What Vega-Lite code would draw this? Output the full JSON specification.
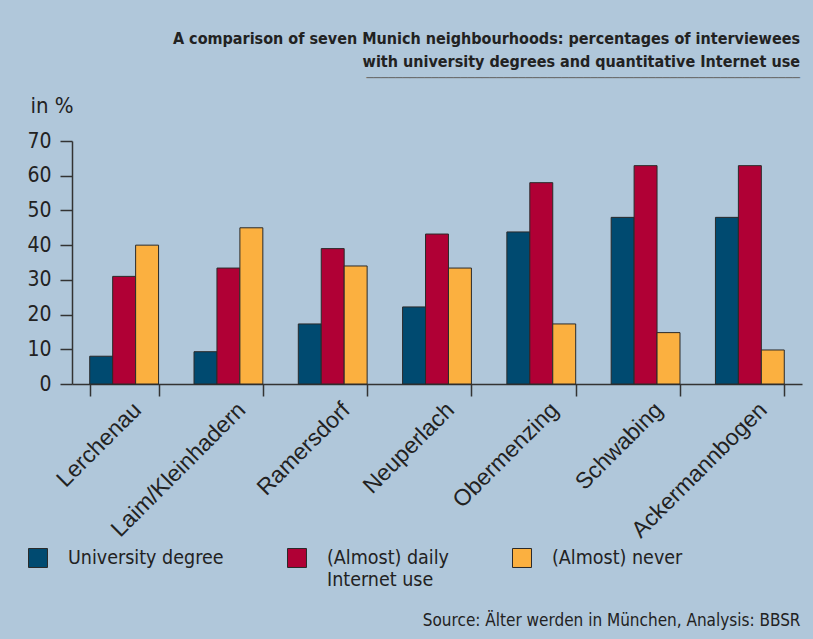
{
  "$schema": "https://vega.github.io/schema/vega-lite/v6.json",
  "width": 730,
  "height": 243,
  "autosize": {"type": "none"},
  "padding": {"left": 72, "top": 141, "right": 11, "bottom": 255},
  "background": "#b0c7da",
  "title": {
    "text": ["A comparison of seven Munich neighbourhoods: percentages of interviewees", "with university degrees and quantitative Internet use"],
    "subtitle": "────────────────────────────────────────────────────────────",
    "anchor": "end",
    "frame": "group",
    "dx": -2,
    "font": "DejaVu Sans Condensed",
    "fontSize": 16,
    "fontWeight": "bold",
    "lineHeight": 23,
    "color": "#222222",
    "subtitleFont": "DejaVu Sans Mono",
    "subtitleFontSize": 12,
    "subtitleColor": "#666666",
    "subtitlePadding": 3,
    "offset": 10
  },
  "data": {
    "values": [
      {"area": "Lerchenau", "series": "University degree|", "value": 8},
      {"area": "Lerchenau", "series": "(Almost) daily|Internet use", "value": 31},
      {"area": "Lerchenau", "series": "(Almost) never|", "value": 40},
      {"area": "Laim/Kleinhadern", "series": "University degree|", "value": 9.3},
      {"area": "Laim/Kleinhadern", "series": "(Almost) daily|Internet use", "value": 33.4},
      {"area": "Laim/Kleinhadern", "series": "(Almost) never|", "value": 45},
      {"area": "Ramersdorf", "series": "University degree|", "value": 17.3},
      {"area": "Ramersdorf", "series": "(Almost) daily|Internet use", "value": 39},
      {"area": "Ramersdorf", "series": "(Almost) never|", "value": 34},
      {"area": "Neuperlach", "series": "University degree|", "value": 22.2},
      {"area": "Neuperlach", "series": "(Almost) daily|Internet use", "value": 43.2},
      {"area": "Neuperlach", "series": "(Almost) never|", "value": 33.4},
      {"area": "Obermenzing", "series": "University degree|", "value": 43.8},
      {"area": "Obermenzing", "series": "(Almost) daily|Internet use", "value": 58},
      {"area": "Obermenzing", "series": "(Almost) never|", "value": 17.3},
      {"area": "Schwabing", "series": "University degree|", "value": 48},
      {"area": "Schwabing", "series": "(Almost) daily|Internet use", "value": 62.9},
      {"area": "Schwabing", "series": "(Almost) never|", "value": 14.8},
      {"area": "Ackermannbogen", "series": "University degree|", "value": 48},
      {"area": "Ackermannbogen", "series": "(Almost) daily|Internet use", "value": 62.9},
      {"area": "Ackermannbogen", "series": "(Almost) never|", "value": 9.8}
    ]
  },
  "mark": {"type": "bar", "stroke": "#2a2a2a", "strokeWidth": 1},
  "encoding": {
    "x": {
      "field": "area",
      "type": "nominal",
      "sort": null,
      "scale": {"paddingInner": 0.34, "paddingOuter": 0.17},
      "axis": {
        "title": "Source: Älter werden in München, Analysis: BBSR",
        "titleFont": "DejaVu Sans Condensed",
        "titleFontSize": 17,
        "titleFontWeight": "normal",
        "titleColor": "#222222",
        "titleAnchor": "end",
        "titleAlign": "right",
        "titleBaseline": "middle",
        "titleX": 728,
        "titleY": 236,
        "labelAngle": -45,
        "labelAlign": "right",
        "labelBaseline": "middle",
        "labelFont": "Liberation Sans",
        "labelFontSize": 23,
        "labelColor": "#222222",
        "labelOffset": 13,
        "labelPadding": 10,
        "labelLimit": 300,
        "tickBand": "extent",
        "tickSize": 12,
        "tickColor": "#333333",
        "tickWidth": 1.5,
        "domainColor": "#333333",
        "domainWidth": 1.5
      }
    },
    "xOffset": {"field": "series", "type": "nominal", "sort": null, "scale": {"paddingInner": 0, "paddingOuter": 0}},
    "y": {
      "field": "value",
      "type": "quantitative",
      "scale": {"domain": [0, 70], "nice": false},
      "axis": {
        "title": "in %",
        "titleAngle": 0,
        "titleAlign": "left",
        "titleBaseline": "middle",
        "titleX": -42,
        "titleY": -36,
        "titleFont": "DejaVu Sans Condensed",
        "titleFontSize": 22,
        "titleFontWeight": "normal",
        "titleColor": "#222222",
        "values": [0, 10, 20, 30, 40, 50, 60, 70],
        "grid": false,
        "labelFont": "DejaVu Sans Condensed",
        "labelFontSize": 21,
        "labelColor": "#222222",
        "labelPadding": 9,
        "tickSize": 12,
        "tickColor": "#333333",
        "tickWidth": 1.5,
        "domainColor": "#333333",
        "domainWidth": 1.5
      }
    },
    "color": {
      "field": "series",
      "type": "nominal",
      "sort": null,
      "scale": {
        "domain": ["University degree|", "(Almost) daily|Internet use", "(Almost) never|"],
        "range": ["#004a70", "#b00035", "#fbb040"]
      },
      "legend": {
        "title": null,
        "orient": "none",
        "legendX": -44,
        "legendY": 407,
        "direction": "horizontal",
        "columns": 3,
        "columnPadding": 61,
        "symbolType": "square",
        "symbolSize": 360,
        "symbolStrokeColor": "#2a2a2a",
        "symbolStrokeWidth": 1,
        "symbolOpacity": 1,
        "labelFont": "DejaVu Sans Condensed",
        "labelFontSize": 19.5,
        "labelColor": "#222222",
        "labelOffset": 20,
        "labelLimit": 300,
        "labelBaseline": "middle",
        "labelExpr": "split(datum.label, '|')"
      }
    }
  },
  "config": {
    "view": {"stroke": null},
    "font": "DejaVu Sans Condensed"
  }
}
